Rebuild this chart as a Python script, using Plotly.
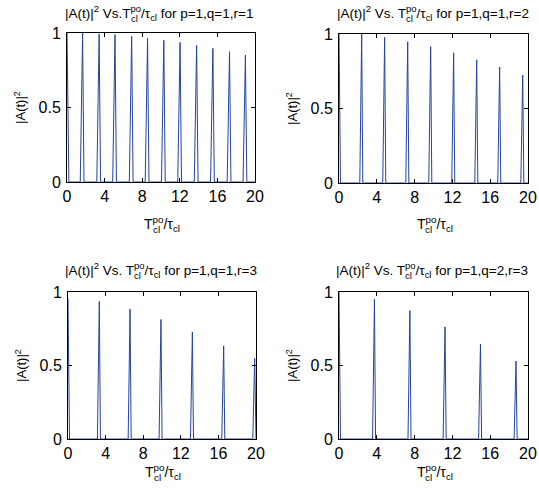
import plotly.graph_objects as go

# ---- data ----
p1_centers = [0.0, 1.66, 3.42, 5.11, 6.88, 8.57, 10.30, 12.03, 13.79, 15.52, 17.29, 18.98]
p1_heights = [1.0, 1.0, 0.993, 0.989, 0.978, 0.964, 0.951, 0.937, 0.917, 0.897, 0.875, 0.852]
p2_centers = [0.0, 2.40, 4.83, 7.27, 9.70, 12.13, 14.57, 17.00, 19.44]
p2_heights = [1.0, 1.0, 0.978, 0.948, 0.915, 0.874, 0.827, 0.778, 0.724]
p3_centers = [0.0, 3.33, 6.60, 9.89, 13.23, 16.56, 19.86]
p3_heights = [0.955, 0.937, 0.883, 0.813, 0.727, 0.634, 0.549]
p4_centers = [0.0, 3.75, 7.50, 11.22, 14.97, 18.73]
p4_heights = [1.0, 0.950, 0.874, 0.763, 0.646, 0.530]
half_widths = [0.25, 0.2, 0.2, 0.2]

params = ["p=1,q=1,r=1", "p=1,q=1,r=2", "p=1,q=1,r=3", "p=1,q=2,r=3"]
vs_text = ["Vs.", "Vs. ", "Vs. ", "Vs. "]
xticks = [0, 4, 8, 12, 16, 20]
yticks = [0, 0.5, 1]
yticklabels = ["0", "0.5", "1"]

W, H = 539, 494
# panel boxes in pixels: (left, right, top, bottom)
boxes = [(67, 255, 33, 182), (339, 528, 34, 183), (68, 256, 292, 439), (339, 528, 292, 439)]
title_left = [63, 335, 63, 334]
title_y = [13, 13, 270, 270]
xlab_y = [224, 224, 472, 472]

LINE = "#2443a6"
FONT = "Liberation Sans, Arial, Helvetica, sans-serif"
TFS = 13.5   # title font size
XFS = 14     # x label font size

# Arial/Liberation advance widths (per 1000 em) for locating the superscript
CW = {'|': 260, 'A': 667, '(': 333, 't': 278, ')': 333, ' ': 278, 'V': 667,
      's': 500, '.': 278, 'T': 611, '2': 556}


def tw(s, size):
    return sum(CW[c] for c in s) * size / 1000.0


def px(xp):
    return xp / W


def py(yp):
    return 1 - yp / H


fig = go.Figure()
series = [(p1_centers, p1_heights), (p2_centers, p2_heights),
          (p3_centers, p3_heights), (p4_centers, p4_heights)]

annotations = []
for i, ((cs, hs), (l, r, t, b)) in enumerate(zip(series, boxes)):
    hw = half_widths[i]
    xs, ys = [], []
    for c, h in zip(cs, hs):
        if c == 0:
            xs += [0, hw * 0.8]
            ys += [h, 0]
        else:
            xs += [c - hw, c, c + hw * 0.6]
            ys += [0, h, 0]
    xs.append(20)
    ys.append(0)
    ax = "" if i == 0 else str(i + 1)
    fig.add_trace(go.Scatter(x=xs, y=ys, mode="lines",
                             line=dict(color=LINE, width=1),
                             xaxis="x" + ax, yaxis="y" + ax,
                             showlegend=False, hoverinfo="skip"))
    axis_common = dict(showline=True, linecolor="black", linewidth=1, mirror="ticks",
                       ticks="inside", ticklen=4, tickcolor="black", showgrid=False,
                       zeroline=False, automargin=False,
                       tickfont=dict(family=FONT, size=16, color="black"))
    fig.update_layout(**{
        "xaxis" + ax: dict(domain=[px(l), px(r)], range=[0, 20], tickvals=xticks,
                           anchor="y" + ax, **axis_common),
        "yaxis" + ax: dict(domain=[py(b), py(t)], range=[0, 1], tickvals=yticks,
                           ticktext=yticklabels, anchor="x" + ax, ticklabelstandoff=2,
                           title=dict(text="|A(t)|<sup>2</sup>", standoff=9,
                                      font=dict(family=FONT, size=13, color="black")),
                           **axis_common),
    })
    # title
    lead = "|A(t)|"
    annotations.append(dict(
        text=lead + "<sup>2</sup> " + vs_text[i] + "T<sup>po</sup>/τ<sub>cl</sub> for " + params[i],
        x=px(title_left[i]), y=py(title_y[i]), xref="paper", yref="paper",
        xanchor="left", yanchor="middle", showarrow=False,
        font=dict(family=FONT, size=TFS, color="black")))
    po_x = title_left[i] + tw(lead, TFS) + tw("2", TFS * 0.7) + tw(" " + vs_text[i] + "T", TFS)
    annotations.append(dict(
        text="cl", x=px(po_x), y=py(title_y[i] + 5), xref="paper", yref="paper",
        xanchor="left", yanchor="middle", showarrow=False,
        font=dict(family=FONT, size=TFS * 0.7, color="black")))
    # x label
    xl_left = (l + r) / 2 - 19
    annotations.append(dict(
        text="T<sup>po</sup>/τ<sub>cl</sub>", x=px(xl_left), y=py(xlab_y[i]),
        xref="paper", yref="paper", showarrow=False, xanchor="left", yanchor="middle",
        font=dict(family=FONT, size=XFS, color="black")))
    annotations.append(dict(
        text="cl", x=px(xl_left + tw("T", XFS)), y=py(xlab_y[i] + 5),
        xref="paper", yref="paper", showarrow=False, xanchor="left", yanchor="middle",
        font=dict(family=FONT, size=XFS * 0.7, color="black")))

fig.update_layout(template=None, width=W, height=H,
                  margin=dict(l=0, r=0, t=0, b=0, pad=0, autoexpand=False),
                  paper_bgcolor="white", plot_bgcolor="white",
                  annotations=annotations)
fig.write_html("out.html", config={"displayModeBar": False},
               post_script="document.body.style.margin='0';document.body.style.overflow='hidden';")
